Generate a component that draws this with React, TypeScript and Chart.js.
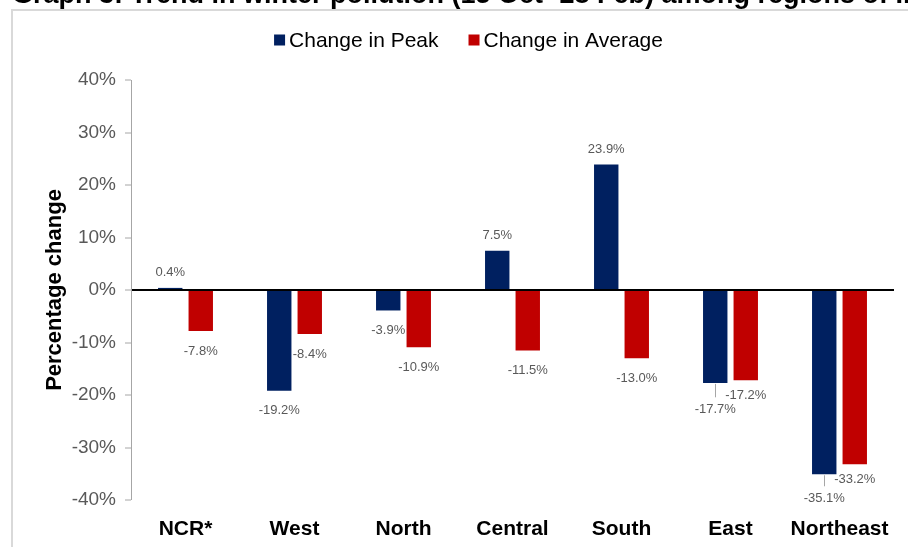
import React, { useEffect, useRef } from "react";
import { Chart, registerables } from "chart.js";

Chart.register(...registerables);

const TITLE = "Graph 3: Trend in winter pollution (15 Oct- 28 Feb) among regions of India";
const categories = ["NCR*", "West", "North", "Central", "South", "East", "Northeast"];
const seriesNames = ["Change in Peak", "Change in Average"];
const peakChange = [0.4, -19.2, -3.9, 7.5, 23.9, -17.7, -35.1];
const averageChange = [-7.8, -8.4, -10.9, -11.5, -13.0, -17.2, -33.2];
const yMin = -40;
const yMax = 40;
const yStep = 10;
const yTitle = "Percentage change";

const BLUE = "#002060";
const RED = "#C00000";
const FONT = '"Liberation Sans", Arial, sans-serif';

const fmt = (v: number) => v.toFixed(1) + "%";

const framePlugin = {
  id: "frame",
  beforeDraw(chart: any) {
    const ctx = chart.ctx;
    ctx.save();
    ctx.strokeStyle = "#d9d9d9";
    ctx.lineWidth = 2;
    ctx.beginPath();
    ctx.moveTo(12, 560);
    ctx.lineTo(12, 10);
    ctx.lineTo(920, 10);
    ctx.stroke();
    ctx.fillStyle = "#000";
    ctx.font = `bold 27px ${FONT}`;
    ctx.textAlign = "left";
    ctx.textBaseline = "alphabetic";
    ctx.fillText(TITLE, 12, 3);
    ctx.restore();
  },
  afterDraw(chart: any) {
    const ctx = chart.ctx;
    ctx.save();
    ctx.font = `21px ${FONT}`;
    ctx.textBaseline = "middle";
    ctx.textAlign = "left";
    const box = 11;
    const gapText = 4;
    const gapItem = 30;
    const colors = [BLUE, RED];
    const widths = seriesNames.map((n) => ctx.measureText(n).width);
    const total = widths.reduce((s, w) => s + box + gapText + w, 0) + gapItem * (seriesNames.length - 1);
    let x = 468.5 - total / 2;
    const cy = 40;
    seriesNames.forEach((n, i) => {
      ctx.fillStyle = colors[i];
      ctx.fillRect(x, cy - box / 2, box, box);
      ctx.fillStyle = "#000";
      ctx.fillText(n, x + box + gapText, cy + 1);
      x += box + gapText + widths[i] + gapItem;
    });
    ctx.restore();
  },
};

const labelPlugin = {
  id: "valueLabels",
  afterDatasetsDraw(chart: any) {
    const ctx = chart.ctx;
    ctx.save();
    ctx.font = `13px ${FONT}`;
    ctx.fillStyle = "#595959";
    ctx.textAlign = "center";
    ctx.textBaseline = "middle";
    const metas = [chart.getDatasetMeta(0), chart.getDatasetMeta(1)];
    for (let i = 0; i < categories.length; i++) {
      const items = metas.map((m: any, d: number) => {
        const el = m.data[i];
        const v = chart.data.datasets[d].data[i] as number;
        return { x: el.x, end: el.y, v, y: v >= 0 ? el.y - 15 : el.y + 20, text: fmt(v) };
      });
      const [a, b] = items;
      if (a.v < 0 && b.v < 0 && Math.abs(a.y - b.y) < 14) {
        const upper = a.end <= b.end ? a : b;
        const lower = upper === a ? b : a;
        upper.y = upper.end + 15;
        lower.y = Math.max(lower.end + 24, upper.y + 14);
      }
      items.forEach((it) => {
        if (it.v < 0 && it.y - it.end > 22) {
          ctx.save();
          ctx.strokeStyle = "#a6a6a6";
          ctx.lineWidth = 1;
          ctx.beginPath();
          ctx.moveTo(Math.round(it.x) + 0.5, it.end + 1);
          ctx.lineTo(Math.round(it.x) + 0.5, it.y - 12);
          ctx.stroke();
          ctx.restore();
        }
        ctx.fillText(it.text, it.x, it.y);
      });
    }
    ctx.restore();
  },
};

export default function App() {
  const ref = useRef<HTMLCanvasElement | null>(null);

  useEffect(() => {
    if (!ref.current) return;
    const chart = new Chart(ref.current, {
      type: "bar",
      data: {
        labels: categories,
        datasets: [
          { label: seriesNames[0], data: peakChange, backgroundColor: BLUE, borderWidth: 0 },
          { label: seriesNames[1], data: averageChange, backgroundColor: RED, borderWidth: 0 },
        ],
      },
      options: {
        animation: false,
        responsive: false,
        maintainAspectRatio: false,
        datasets: { bar: { categoryPercentage: 0.56, barPercentage: 0.8 } },
        layout: { padding: { top: 80, left: 12, right: 14, bottom: 0 } },
        plugins: {
          legend: { display: false },
          title: { display: false },
          tooltip: { enabled: false },
        },
        scales: {
          x: {
            grid: { display: false, drawTicks: false },
            border: { display: false },
            ticks: {
              color: "#000",
              font: { family: FONT, size: 21, weight: "bold" },
              padding: 17,
              maxRotation: 0,
              autoSkip: false,
            },
            afterFit: (s: any) => {
              s.height = 47;
            },
          },
          y: {
            min: yMin,
            max: yMax,
            ticks: {
              stepSize: yStep,
              color: "#595959",
              font: { family: FONT, size: 19 },
              padding: 9,
              callback: (v: any) => `${v}%`,
            },
            grid: {
              color: (c: any) => (c.tick && c.tick.value === 0 ? "#000" : "rgba(0,0,0,0)"),
              lineWidth: (c: any) => (c.tick && c.tick.value === 0 ? 2 : 0),
              drawTicks: true,
              tickLength: 6,
              tickColor: "#a6a6a6",
              tickWidth: 1,
            },
            border: { display: true, color: "#a6a6a6", width: 1 },
            title: {
              display: true,
              text: yTitle,
              color: "#000",
              font: { family: FONT, size: 22, weight: "bold" },
              padding: { top: 30, bottom: 0 },
            },
            afterFit: (s: any) => {
              s.width = 119;
            },
          },
        },
      },
      plugins: [framePlugin, labelPlugin],
    });
    return () => chart.destroy();
  }, []);

  return (
    <div style={{ position: "absolute", left: 0, top: 0, width: 908, height: 547, background: "#fff" }}>
      <canvas ref={ref} width={908} height={547} style={{ display: "block" }} />
    </div>
  );
}
